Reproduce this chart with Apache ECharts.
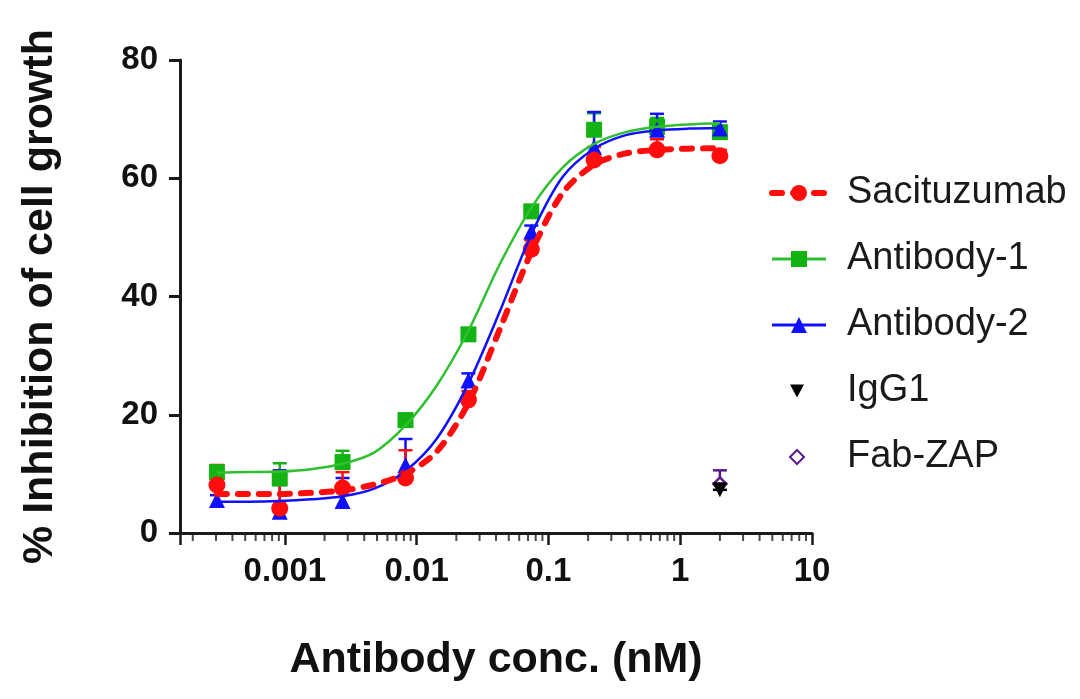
<!DOCTYPE html>
<html>
<head>
<meta charset="utf-8">
<script src="https://cdn.jsdelivr.net/npm/echarts@6/dist/echarts.min.js"></script>
<style>
  html, body { margin: 0; padding: 0; background: #fff; }
  #chart { width: 1080px; height: 699px; }
</style>
</head>
<body>
<div id="chart"></div>
<script>
// doses (nM), 3-fold dilution series
var doses = [0.000305, 0.000914, 0.00274, 0.00823, 0.0247, 0.0741, 0.222, 0.667, 2.0];

// mean % inhibition and upper error
var saci     = [8.1, 4.2, 7.6, 9.3, 22.5, 48.0, 63.1, 64.8, 63.8];
var saciErr  = [3.4, 6.2, 2.7, 4.7, 1.5, 1.5, 2.2, 1.8, 1.0];
var ab1      = [10.3, 9.2, 12.0, 19.1, 33.6, 54.4, 68.2, 68.7, 67.8];
var ab1Err   = [1.0, 2.6, 1.9, 1.0, 0.8, 0.8, 2.8, 1.5, 0.8];
var ab2      = [5.6, 3.6, 5.4, 11.5, 25.8, 51.0, 65.3, 68.2, 68.4];
var ab2Err   = [0.8, 7.0, 3.9, 4.4, 1.2, 1.0, 5.9, 2.7, 1.2];

// controls, only at the top dose
var ctrlDose  = [2.0];
var igg1      = [7.3];
var igg1Err   = [0];
var fabZap    = [8.3];
var fabZapErr = [2.3];

// fitted curves (half-dilution steps)
var fitX    = [0.000305, 0.000528, 0.000914, 0.00158, 0.00274, 0.00475, 0.00823, 0.01425, 0.0247, 0.0428, 0.0741, 0.128, 0.222, 0.385, 0.667, 1.155, 2.0];
var fitSaci = [6.6, 6.6, 6.6, 6.8, 7.2, 8.2, 10.0, 13.8, 22.0, 34.5, 47.5, 57.5, 62.3, 64.2, 64.8, 65.0, 65.1];
var fitAb1  = [10.2, 10.3, 10.4, 10.8, 11.7, 13.6, 18.2, 25.0, 34.2, 45.5, 55.0, 61.8, 65.8, 67.8, 68.7, 69.1, 69.3];
var fitAb2  = [5.3, 5.3, 5.4, 5.7, 6.2, 7.5, 10.5, 16.0, 25.3, 37.5, 50.5, 60.2, 65.0, 67.3, 68.1, 68.4, 68.5];

var xTickLabels = ['0.001', '0.01', '0.1', '1', '10'];
var xTickPowers = [-3, -2, -1, 0, 1];
var minorDecades = [0.0001, 0.001, 0.01, 0.1, 1];
var minorSteps = [2, 3, 4, 5, 6, 7, 8, 9];

var RED = '#ff0d0d', GREEN = '#12b312', BLUE = '#1010ff', PURPLE = '#5a1a8c';
var FONT = '"Liberation Sans", Arial, Helvetica, sans-serif';

function pairs(xs, ys) {
    return xs.map(function (x, i) { return [x, ys[i]]; });
}

// vertical error bar (upper only) with a cap
function errorSeries(name, xs, ys, errs, color) {
    return {
        name: name,
        type: 'custom',
        silent: true,
        clip: false,
        data: xs.map(function (x, i) { return [x, ys[i], ys[i] + errs[i]]; }),
        encode: { x: 0, y: [1, 2] },
        renderItem: function (params, api) {
            var base = api.coord([api.value(0), api.value(1)]);
            var top = api.coord([api.value(0), api.value(2)]);
            var w = 7;
            var st = { stroke: color, lineWidth: 2.5 };
            return {
                type: 'group',
                children: [
                    { type: 'line', shape: { x1: base[0], y1: base[1], x2: top[0], y2: top[1] }, style: st },
                    { type: 'line', shape: { x1: top[0] - w, y1: top[1], x2: top[0] + w, y2: top[1] }, style: st }
                ]
            };
        }
    };
}

// log minor ticks along the x axis
var minorTicks = [];
minorDecades.forEach(function (d) {
    minorSteps.forEach(function (s) {
        var v = d * s;
        if (v >= 0.00016 && v <= 10) minorTicks.push([v, 0]);
    });
});

var legendText = { fontSize: 38, color: '#1a1a1a', lineHeight: 38, fontFamily: FONT };

var chart = echarts.init(document.getElementById('chart'));

var option = {
    animation: false,
    backgroundColor: '#fff',
    textStyle: { fontFamily: FONT },
    grid: { left: 180, right: 268, top: 60, bottom: 166, outerBoundsMode: 'none' },
    legend: [
        {
            orient: 'vertical',
            left: 769,
            top: 174,
            padding: 0,
            itemWidth: 54,
            itemHeight: 20,
            itemGap: 28,
            selectedMode: false,
            data: [
                { name: 'Sacituzumab', lineStyle: { color: RED, width: 6, type: [10, 11], cap: 'round' } },
                { name: 'Antibody-1', lineStyle: { color: '#2fbf2f', width: 3 } },
                { name: 'Antibody-2', lineStyle: { color: BLUE, width: 3 } }
            ],
            textStyle: Object.assign({ padding: [0, 0, 0, 16] }, legendText)
        },
        {
            orient: 'vertical',
            left: 789,
            top: 372,
            padding: 0,
            itemWidth: 14,
            itemHeight: 14,
            itemGap: 28,
            selectedMode: false,
            data: [
                { name: 'IgG1', icon: 'path://M0,0L12,0L6,11Z' },
                { name: 'Fab-ZAP' }
            ],
            textStyle: Object.assign({ padding: [0, 0, 0, 38] }, legendText)
        }
    ],
    xAxis: {
        type: 'log',
        logBase: 10,
        min: 0.00016,
        max: 10,
        name: 'Antibody conc. (nM)',
        nameLocation: 'middle',
        nameGap: 106,
        nameTextStyle: { fontSize: 43, fontWeight: 'bold', color: '#111', fontFamily: FONT },
        axisLine: { lineStyle: { color: '#1a1a1a', width: 3 } },
        axisTick: { show: true, length: 12, lineStyle: { color: '#1a1a1a', width: 2.5 } },
        splitLine: { show: false },
        axisLabel: {
            margin: 22,
            fontSize: 33,
            fontWeight: 'bold',
            color: '#111',
            fontFamily: FONT,
            formatter: function (v) {
                var p = Math.log(v) / Math.LN10;
                var k = xTickPowers.indexOf(Math.round(p));
                if (k < 0 || Math.abs(p - Math.round(p)) > 1e-6) return '';
                return xTickLabels[k];
            }
        }
    },
    yAxis: {
        type: 'value',
        min: 0,
        max: 80,
        interval: 20,
        name: '% Inhibition of cell growth',
        nameLocation: 'middle',
        nameGap: 118,
        nameTextStyle: { fontSize: 43, fontWeight: 'bold', color: '#111', fontFamily: FONT },
        axisLine: { show: true, lineStyle: { color: '#1a1a1a', width: 3 } },
        axisTick: { show: true, length: 11, lineStyle: { color: '#1a1a1a', width: 3 } },
        splitLine: { show: false },
        axisLabel: { margin: 22, fontSize: 33, fontWeight: 'bold', color: '#111', fontFamily: FONT }
    },
    series: [
        {
            name: 'minor ticks',
            type: 'scatter',
            silent: true,
            clip: false,
            symbol: 'rect',
            symbolSize: [2, 8],
            symbolOffset: [0, 4],
            itemStyle: { color: '#1a1a1a' },
            data: minorTicks,
            z: 1
        },
        // Antibody-1 (bottom layer)
        errorSeries('Antibody-1 err', doses, ab1, ab1Err, GREEN),
        {
            name: 'Antibody-1',
            type: 'line',
            data: pairs(fitX, fitAb1),
            smooth: 0.3,
            showSymbol: false,
            symbol: 'rect',
            lineStyle: { color: '#2fbf2f', width: 2.5 },
            itemStyle: { color: GREEN }
        },
        {
            name: 'Antibody-1 pts',
            type: 'scatter',
            symbol: 'rect',
            symbolSize: 16,
            itemStyle: { color: GREEN, opacity: 1 },
            data: pairs(doses, ab1)
        },
        // Antibody-2
        errorSeries('Antibody-2 err', doses, ab2, ab2Err, BLUE),
        {
            name: 'Antibody-2',
            type: 'line',
            data: pairs(fitX, fitAb2),
            smooth: 0.3,
            showSymbol: false,
            symbol: 'triangle',
            lineStyle: { color: BLUE, width: 2.5 },
            itemStyle: { color: BLUE }
        },
        {
            name: 'Antibody-2 pts',
            type: 'scatter',
            symbol: 'triangle',
            symbolSize: 16,
            itemStyle: { color: BLUE, opacity: 1 },
            data: pairs(doses, ab2)
        },
        // Sacituzumab (top layer)
        errorSeries('Sacituzumab err', doses, saci, saciErr, RED),
        {
            name: 'Sacituzumab',
            type: 'line',
            data: pairs(fitX, fitSaci),
            smooth: 0.3,
            showSymbol: false,
            symbol: 'circle',
            lineStyle: { color: RED, width: 6, type: [10, 11], cap: 'round' },
            itemStyle: { color: RED }
        },
        {
            name: 'Sacituzumab pts',
            type: 'scatter',
            symbol: 'circle',
            symbolSize: 17,
            itemStyle: { color: RED, opacity: 1 },
            data: pairs(doses, saci)
        },
        // controls
        errorSeries('Fab-ZAP err', ctrlDose, fabZap, fabZapErr, PURPLE),
        {
            name: 'Fab-ZAP',
            type: 'scatter',
            symbol: 'diamond',
            symbolSize: 13,
            itemStyle: { color: '#fff', borderColor: PURPLE, borderWidth: 2.5, opacity: 1 },
            data: pairs(ctrlDose, fabZap)
        },
        errorSeries('IgG1 err', ctrlDose, igg1, igg1Err, '#000'),
        {
            name: 'IgG1',
            type: 'scatter',
            symbol: 'triangle',
            symbolRotate: 180,
            symbolSize: 15,
            itemStyle: { color: '#000', opacity: 1 },
            data: pairs(ctrlDose, igg1)
        }
    ]
};

chart.setOption(option);
</script>
</body>
</html>
